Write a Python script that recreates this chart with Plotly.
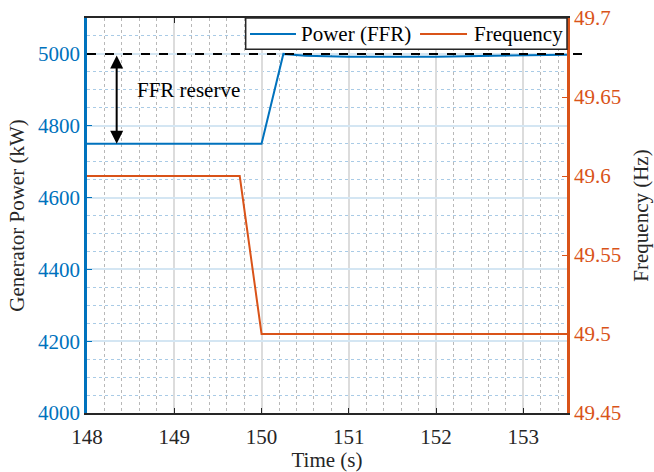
import plotly.graph_objects as go

# ---- data ----
power_t = [148.0, 150.0, 150.25, 150.5, 151.0, 151.5, 152.0, 152.5, 153.0, 153.5]
power_kw = [4750, 4750, 5000, 4995, 4992, 4991, 4992, 4994, 4996, 4998]
freq_t = [148.0, 149.75, 150.0, 153.5]
freq_hz = [49.6, 49.6, 49.5, 49.5]

x_ticks = [148, 149, 150, 151, 152, 153]
left_ticks = [4000, 4200, 4400, 4600, 4800, 5000]
right_ticks = [49.45, 49.5, 49.55, 49.6, 49.65, 49.7]
right_labels = ["49.45", "49.5", "49.55", "49.6", "49.65", "49.7"]
series_names = ["Power (FFR)", "Frequency"]
reserve_level = 5000
reserve_base = 4750
arrow_t = 148.34

BLUE = "#0072BD"
ORANGE = "#D95319"
DARK = "#262626"
FONT = "Liberation Serif"
FS = 21

fig = go.Figure()
fig.add_trace(go.Scatter(x=power_t, y=power_kw, mode="lines", name=series_names[0],
                         line=dict(color=BLUE, width=2)))
fig.add_trace(go.Scatter(x=freq_t, y=freq_hz, mode="lines", name=series_names[1],
                         line=dict(color=ORANGE, width=2), yaxis="y2"))

# dashed reserve line
fig.add_shape(type="line", xref="paper", yref="y", x0=0, x1=1.035,
              y0=reserve_level, y1=reserve_level,
              line=dict(color="black", width=2, dash="dash"), layer="above")

# double arrow
fig.add_annotation(x=arrow_t, y=reserve_base, ax=arrow_t, ay=reserve_level,
                   xref="x", yref="y", axref="x", ayref="y", text="",
                   showarrow=True, arrowhead=2, arrowside="end+start",
                   arrowsize=1.3, arrowwidth=2, arrowcolor="black")
fig.add_annotation(x=149.16, y=4900, xref="x", yref="y", text="FFR reserve",
                   showarrow=False, font=dict(family=FONT, size=FS, color="black"))

# legend box (drawn manually to match the compact boxed legend)
fig.add_shape(type="rect", xref="paper", yref="paper", x0=0.3306, x1=1.0,
              y0=0.9208, y1=1.0, fillcolor="white",
              line=dict(color=DARK, width=1.5), layer="above")
leg_y = 0.9595
for (x0, x1, tx), col, name in zip([(0.3396, 0.4354, 0.4417), (0.6938, 0.7917, 0.802)],
                                   [BLUE, ORANGE], series_names):
    fig.add_shape(type="line", xref="paper", yref="paper", x0=x0, x1=x1,
                  y0=leg_y, y1=leg_y, line=dict(color=col, width=2), layer="above")
    fig.add_annotation(x=tx, y=leg_y, xref="paper", yref="paper", text=name,
                       showarrow=False, xanchor="left", yanchor="middle",
                       font=dict(family=FONT, size=FS, color="black"))

fig.update_layout(
    width=654, height=472,
    margin=dict(l=87, r=87, t=18, b=59, autoexpand=False),
    paper_bgcolor="white", plot_bgcolor="white",
    font=dict(family=FONT, size=FS, color=DARK),
    showlegend=False,
    xaxis=dict(range=[148, 153.5], tickvals=x_ticks, ticks="inside", ticklen=5,
               tickcolor=DARK, linecolor=DARK, linewidth=1.5, showline=True,
               mirror="ticks", showgrid=True, gridcolor="#dcdcdc", gridwidth=1.5,
               zeroline=False, ticklabelstandoff=4, automargin=False,
               minor=dict(dtick=0.2, showgrid=True, gridcolor="#b8b8b8",
                          griddash="dot", gridwidth=1),
               title=dict(text="Time (s)", standoff=4,
                          font=dict(family=FONT, size=FS, color=DARK)),
               tickfont=dict(family=FONT, size=FS, color=DARK)),
    yaxis=dict(range=[4000, 5100], tickvals=left_ticks, ticks="inside", ticklen=5,
               tickcolor=BLUE, linecolor=BLUE, linewidth=2.5, showline=True,
               showgrid=True, gridcolor="#d4e6f3", gridwidth=1.5, zeroline=False,
               automargin=False,
               minor=dict(dtick=50, showgrid=True, gridcolor="#a9cbe6",
                          griddash="dot", gridwidth=1.2),
               title=dict(text="Generator Power (kW)", standoff=8,
                          font=dict(family=FONT, size=FS, color=DARK)),
               tickfont=dict(family=FONT, size=FS, color=BLUE)),
    yaxis2=dict(range=[49.45, 49.7], overlaying="y", side="right",
                tickvals=right_ticks, ticktext=right_labels, ticks="inside",
                ticklen=5, tickcolor=ORANGE, linecolor=ORANGE, linewidth=2.5,
                showline=True, showgrid=False, zeroline=False, automargin=False,
                title=dict(text="Frequency (Hz)", standoff=14,
                           font=dict(family=FONT, size=FS, color=DARK)),
                tickfont=dict(family=FONT, size=FS, color=ORANGE)),
)

fig.write_html("out.html")
